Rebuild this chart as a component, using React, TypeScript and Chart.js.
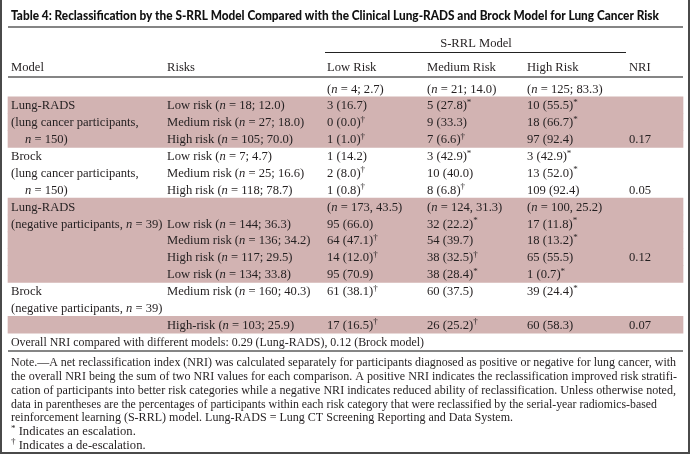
import React, { useEffect, useRef } from "react";
import { Chart, registerables } from "chart.js";

Chart.register(...registerables);

// ---------- data ----------
const TITLE =
  "Table 4: Reclassification by the S-RRL Model Compared with the Clinical Lung-RADS and Brock Model for Lung Cancer Risk";
const GROUP_HEADER = "S-RRL Model";
const COLUMN_HEADERS = ["Model", "Risks", "Low Risk", "Medium Risk", "High Risk", "NRI"];

const rowKeys = ["r0", "r1", "r2", "r3", "r4", "r5", "r6", "r7", "r8", "r9", "r10", "r11", "r12", "r13", "r14", "r15"];

const modelLabels = [
  "",
  "Lung-RADS",
  "(lung cancer participants,",
  "n = 150)",
  "Brock",
  "(lung cancer participants,",
  "n = 150)",
  "Lung-RADS",
  "(negative participants, n = 39)",
  "",
  "",
  "",
  "Brock",
  "(negative participants, n = 39)",
  "",
  "Overall NRI compared with different models: 0.29 (Lung-RADS), 0.12 (Brock model)",
];

const riskLabels = [
  "",
  "Low risk (n = 18; 12.0)",
  "Medium risk (n = 27; 18.0)",
  "High risk (n = 105; 70.0)",
  "Low risk (n = 7; 4.7)",
  "Medium risk (n = 25; 16.6)",
  "High risk (n = 118; 78.7)",
  "",
  "Low risk (n = 144; 36.3)",
  "Medium risk (n = 136; 34.2)",
  "High risk (n = 117; 29.5)",
  "Low risk (n = 134; 33.8)",
  "Medium risk (n = 160; 40.3)",
  "",
  "High-risk (n = 103; 25.9)",
  "",
];

const lowRiskValues = [
  "(n = 4; 2.7)",
  "3 (16.7)",
  "0 (0.0)†",
  "1 (1.0)†",
  "1 (14.2)",
  "2 (8.0)†",
  "1 (0.8)†",
  "(n = 173, 43.5)",
  "95 (66.0)",
  "64 (47.1)†",
  "14 (12.0)†",
  "95 (70.9)",
  "61 (38.1)†",
  "",
  "17 (16.5)†",
  "",
];

const mediumRiskValues = [
  "(n = 21; 14.0)",
  "5 (27.8)*",
  "9 (33.3)",
  "7 (6.6)†",
  "3 (42.9)*",
  "10 (40.0)",
  "8 (6.8)†",
  "(n = 124, 31.3)",
  "32 (22.2)*",
  "54 (39.7)",
  "38 (32.5)†",
  "38 (28.4)*",
  "60 (37.5)",
  "",
  "26 (25.2)†",
  "",
];

const highRiskValues = [
  "(n = 125; 83.3)",
  "10 (55.5)*",
  "18 (66.7)*",
  "97 (92.4)",
  "3 (42.9)*",
  "13 (52.0)*",
  "109 (92.4)",
  "(n = 100, 25.2)",
  "17 (11.8)*",
  "18 (13.2)*",
  "65 (55.5)",
  "1 (0.7)*",
  "39 (24.4)*",
  "",
  "60 (58.3)",
  "",
];

const nriValues = ["", "", "", "0.17", "", "", "0.05", "", "", "", "0.12", "", "", "", "0.07", ""];

const shadedRows = [false, true, true, true, false, false, false, true, true, true, true, true, false, false, true, false];

const noteLines = [
  "Note.—A net reclassification index (NRI) was calculated separately for participants diagnosed as positive or negative for lung cancer, with",
  "the overall NRI being the sum of two NRI values for each comparison. A positive NRI indicates the reclassification improved risk stratifi-",
  "cation of participants into better risk categories while a negative NRI indicates reduced ability of reclassification. Unless otherwise noted,",
  "data in parentheses are the percentages of participants within each risk category that were reclassified by the serial-year radiomics-based",
  "reinforcement learning (S-RRL) model. Lung-RADS = Lung CT Screening Reporting and Data System.",
  "* Indicates an escalation.",
  "† Indicates a de-escalation.",
];

// ---------- layout / style ----------
const W = 691;
const H = 455;
const SERIF = "'Liberation Serif', 'Times New Roman', serif";
const SANS = "Lato, 'Open Sans', 'DejaVu Sans', sans-serif";
const TEXT = "#231f20";
const SHADE = "#d2b3b2";
const RULE = "#858585";
const FS = 12.6;
const COL_X = [11, 167, 327, 427, 527, 629];
const NOTE_FIT: (number | null)[] = [665, 666, 665, 646, 502, null, null];
const SUMMARY_FIT = 413;

type Opts = { weight?: string; fit?: number | null; align?: "left" | "center"; family?: string };

function drawRich(ctx: CanvasRenderingContext2D, text: string, x: number, yc: number, size: number, opts: Opts = {}) {
  if (!text) return;
  const family = opts.family || SERIF;
  const weight = opts.weight || "normal";
  const parts = text.split(/(\bn(?= =)|[*†])/);
  const runs: { t: string; k: string }[] = [];
  parts.forEach((p, i) => {
    if (!p) return;
    runs.push({ t: p, k: i % 2 === 1 ? (p === "n" ? "it" : "sup") : "reg" });
  });
  const fontFor = (k: string) =>
    k === "it"
      ? `italic ${weight} ${size}px ${family}`
      : k === "sup"
      ? `${weight} ${size * 0.72}px ${family}`
      : `${weight} ${size}px ${family}`;
  let total = 0;
  const widths = runs.map((r) => {
    ctx.font = fontFor(r.k);
    const w = ctx.measureText(r.t).width;
    total += w;
    return w;
  });
  const sx = opts.fit ? opts.fit / total : 1;
  let startX = x;
  if (opts.align === "center") startX = x - (total * sx) / 2;
  const base = yc + size * 0.33;
  ctx.save();
  ctx.translate(startX, base);
  ctx.scale(sx, 1);
  ctx.textBaseline = "alphabetic";
  ctx.textAlign = "left";
  let cx = 0;
  runs.forEach((r, i) => {
    ctx.font = fontFor(r.k);
    ctx.fillText(r.t, cx, r.k === "sup" ? -size * 0.36 : 0);
    cx += widths[i];
  });
  ctx.restore();
}

function hRule(ctx: CanvasRenderingContext2D, x0: number, x1: number, y: number, color: string, w: number) {
  ctx.save();
  ctx.strokeStyle = color;
  ctx.lineWidth = w;
  ctx.beginPath();
  ctx.moveTo(x0, y);
  ctx.lineTo(x1, y);
  ctx.stroke();
  ctx.restore();
}

const tablePlugin = {
  id: "tableText",
  afterDatasetsDraw(chart: any) {
    const ctx: CanvasRenderingContext2D = chart.ctx;
    const xs = chart.scales.x;
    const ys = chart.scales.y;
    const px = (v: number) => xs.getPixelForValue(v);
    ctx.save();
    ctx.fillStyle = TEXT;

    // outer frame
    ctx.strokeStyle = "#4a4a4a";
    ctx.lineWidth = 2;
    ctx.beginPath();
    ctx.moveTo(1, 0);
    ctx.lineTo(1, H - 2);
    ctx.lineTo(W - 2, H - 2);
    ctx.lineTo(W - 2, 0);
    ctx.stroke();

    // title
    ctx.fillStyle = "#111";
    drawRich(ctx, TITLE, 11, 15, 14, { family: SANS, weight: "900", fit: 648 });
    hRule(ctx, 8, 683, 27, RULE, 2);

    ctx.fillStyle = TEXT;
    drawRich(ctx, GROUP_HEADER, px(476), 43, FS, { align: "center" });
    hRule(ctx, 325, 626, 52.5, "#222", 1.2);

    COLUMN_HEADERS.forEach((h, i) => drawRich(ctx, h, px(COL_X[i]), 67, FS));
    hRule(ctx, 8, 683, 77, RULE, 2);

    const cols = [modelLabels, riskLabels, lowRiskValues, mediumRiskValues, highRiskValues, nriValues];
    const last = rowKeys.length - 1;
    rowKeys.forEach((_, r) => {
      const y = ys.getPixelForValue(r);
      cols.forEach((col, c) => {
        const t = col[r];
        if (!t) return;
        let x = px(COL_X[c]);
        if (c === 0 && t.startsWith("n =")) x += 14;
        drawRich(ctx, t, x, y, FS, { fit: r === last && c === 0 ? SUMMARY_FIT : null });
      });
    });

    const bottom = chart.chartArea.bottom;
    hRule(ctx, 8, 683, bottom + 1, RULE, 2);

    noteLines.forEach((line, i) => {
      drawRich(ctx, line, 11, bottom + 12 + i * 13.8, FS, { fit: NOTE_FIT[i] });
    });
    ctx.restore();
  },
};

export default function App() {
  const ref = useRef<HTMLCanvasElement>(null);
  useEffect(() => {
    document.body.style.margin = "0";
    const shadeData = shadedRows.map((s) => (s ? [8, 683] : null));
    const chart = new Chart(ref.current as HTMLCanvasElement, {
      type: "bar",
      data: {
        labels: rowKeys,
        datasets: [
          {
            data: shadeData as any,
            backgroundColor: SHADE,
            borderWidth: 0,
            barPercentage: 1,
            categoryPercentage: 1,
          },
        ],
      },
      options: {
        indexAxis: "y",
        animation: false,
        responsive: false,
        devicePixelRatio: 1,
        layout: { padding: { top: 80, bottom: 105, left: 0, right: 0 } },
        scales: {
          x: { type: "linear", min: 0, max: W, display: false },
          y: { type: "category", display: false, offset: true, grid: { display: false } },
        },
        plugins: { legend: { display: false }, tooltip: { enabled: false } },
      },
      plugins: [tablePlugin],
    });
    return () => chart.destroy();
  }, []);
  return (
    <div style={{ width: W, height: H, background: "#fff" }}>
      <canvas ref={ref} width={W} height={H} style={{ display: "block" }} />
    </div>
  );
}
